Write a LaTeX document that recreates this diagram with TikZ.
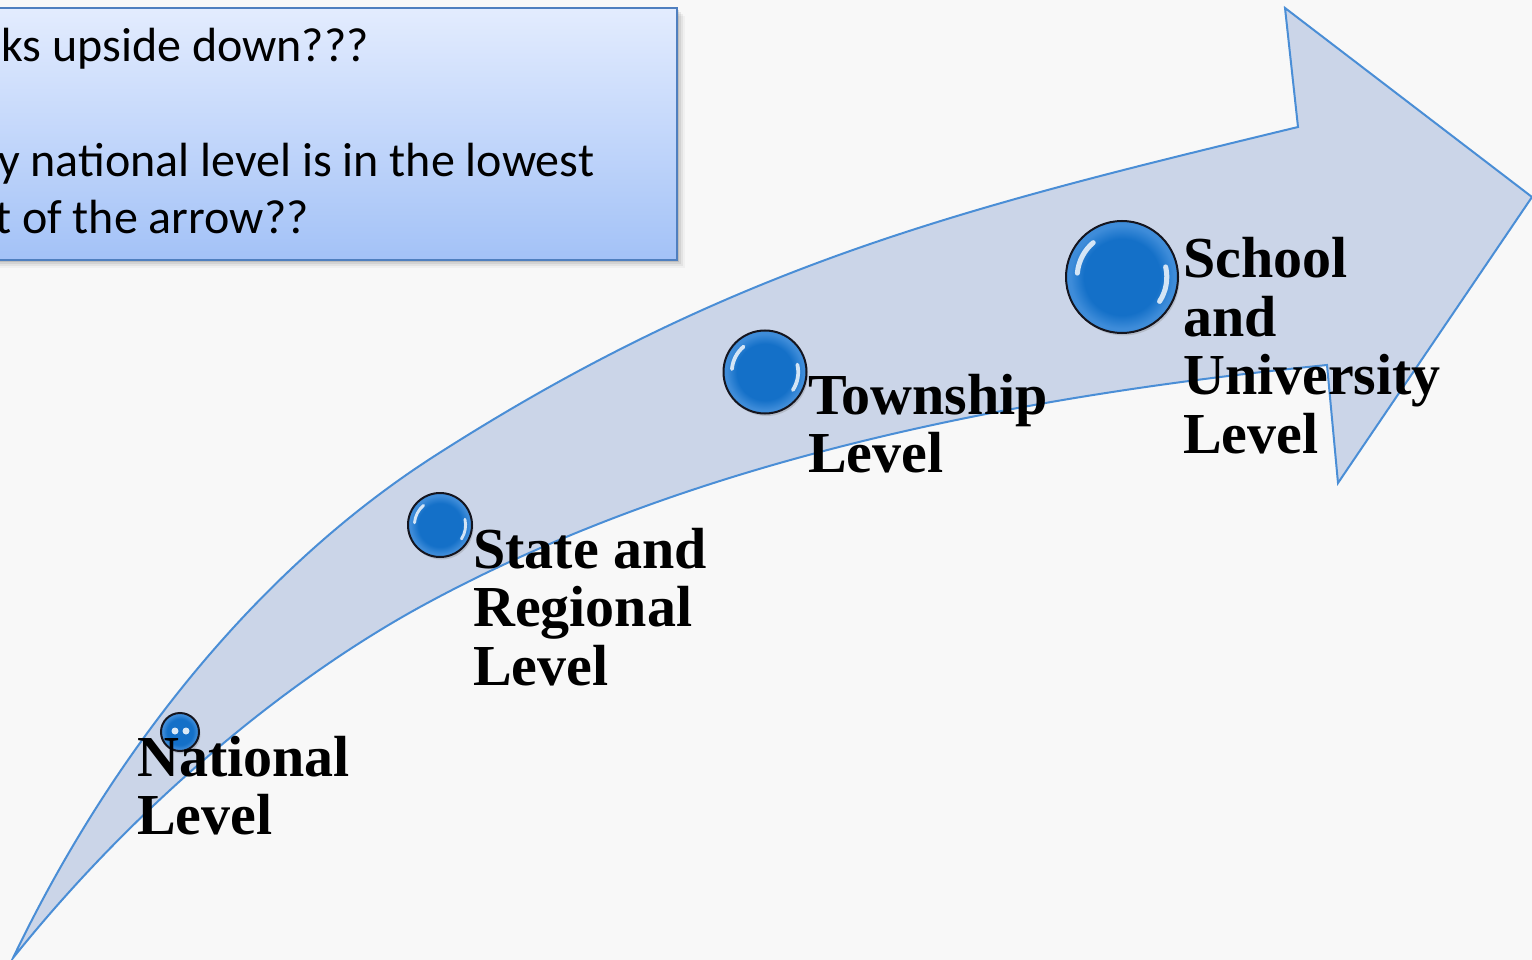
\documentclass[tikz,border=0pt]{standalone}
\usepackage{fontspec}
\usetikzlibrary{shadows}
\newfontfamily\lblfont{Liberation Serif}
\newfontfamily\boxfont{Carlito}
\definecolor{bgc}{HTML}{F8F8F8}
\definecolor{arrowfill}{HTML}{CBD5E8}
\definecolor{arrowline}{HTML}{4A8ED6}
\definecolor{boxtop}{HTML}{E3ECFE}
\definecolor{boxbot}{HTML}{A3C2F7}
\definecolor{boxline}{HTML}{4F7FBF}
\definecolor{ballc}{HTML}{1470C8}
\definecolor{ballr}{HTML}{3E8CD9}
\definecolor{ballrim}{HTML}{15151E}
\pgfdeclareradialshading{ballsh}{\pgfpoint{0bp}{0bp}}{color(0bp)=(ballc);color(17bp)=(ballc);color(23bp)=(ballr);color(25bp)=(ballr);color(50bp)=(ballr)}
\newcommand{\hilite}[2]{%
  \draw[hl, line width=#2*0.09pt] (#1.center) ++(-130:#2*0.8) arc[start angle=-130, end angle=-175, radius=#2*0.8];
  \draw[hl, line width=#2*0.09pt] (#1.center) ++(-13:#2*0.8) arc[start angle=-13, end angle=33, radius=#2*0.8];
}
\begin{document}
\begin{tikzpicture}[x=1pt,y=-1pt,
  arrowsty/.style={fill=arrowfill, draw=arrowline, line width=2pt, line join=miter},
  ball/.style={circle, inner sep=0pt, draw=ballrim, line width=2pt, shading=ballsh,
    drop shadow={opacity=0.3, shadow xshift=1.5pt, shadow yshift=-2.5pt}},
  hl/.style={white, opacity=0.8, line cap=round},
  lbl/.style={anchor=base west, inner sep=0pt, font=\lblfont\bfseries\fontsize{58}{58.5}\selectfont},
  boxtxt/.style={anchor=base west, inner sep=0pt, font=\boxfont\fontsize{48}{57}\selectfont}]
\useasboundingbox (0,0) rectangle (1532,960);
\clip (0,0) rectangle (1532,960);
\fill[bgc] (0,0) rectangle (1532,960);
% arrow
\draw[arrowsty] (13,958) .. controls (107,762) and (250,575) .. (433,457)
  .. controls (735,263) and (968,207) .. (1298,127)
  -- (1285,8) -- (1532,197) -- (1338,483) -- (1327,365)
  .. controls (1019,396) and (692,458) .. (420,607)
  .. controls (289,679) and (138,802) .. (13,958) -- cycle;
% balls
\node[ball, minimum size=38pt] (b1) at (180,732) {};
\node[ball, minimum size=64pt] (b2) at (440,525) {};
\node[ball, minimum size=83pt] (b3) at (765,372) {};
\node[ball, minimum size=112pt] (b4) at (1122,277) {};
\fill[white, opacity=0.85] (b1.center) ++(-5,-1) ellipse[x radius=3.5, y radius=3.5];
\fill[white, opacity=0.85] (b1.center) ++(6,-1) ellipse[x radius=3.5, y radius=3.5];
\hilite{b2}{32}
\hilite{b3}{41.5}
\hilite{b4}{56}
% labels
\node[lbl] (lnat) at (137,776) {\begin{tabular}[t]{@{}l@{}}National\\Level\end{tabular}};
\node[lbl] (lsta) at (473,568) {\begin{tabular}[t]{@{}l@{}}State and\\Regional\\Level\end{tabular}};
\node[lbl] (ltow) at (808,414) {\begin{tabular}[t]{@{}l@{}}Township\\Level\end{tabular}};
\node[lbl] (lsch) at (1183,278) {\begin{tabular}[t]{@{}l@{}}School\\and\\University\\Level\end{tabular}};
% callout box
\foreach \k/\o in {2/0.10,4/0.07,6/0.05,8/0.03}
  \fill[black, opacity=\o] (-10+\k,8+\k) rectangle (677+\k,260+\k);
\shade[top color=boxtop, bottom color=boxbot] (-10,8) rectangle (677,260);
\draw[boxline, line width=2.5pt] (-10,8) rectangle (677,260);
\node[boxtxt] (t1) at (1,62) {ks upside down???};
\node[boxtxt] (t2) at (-2,177) {y national level is in the lowest};
\node[boxtxt] (t3) at (-5,234) {t of the arrow??};
\end{tikzpicture}
\end{document}
